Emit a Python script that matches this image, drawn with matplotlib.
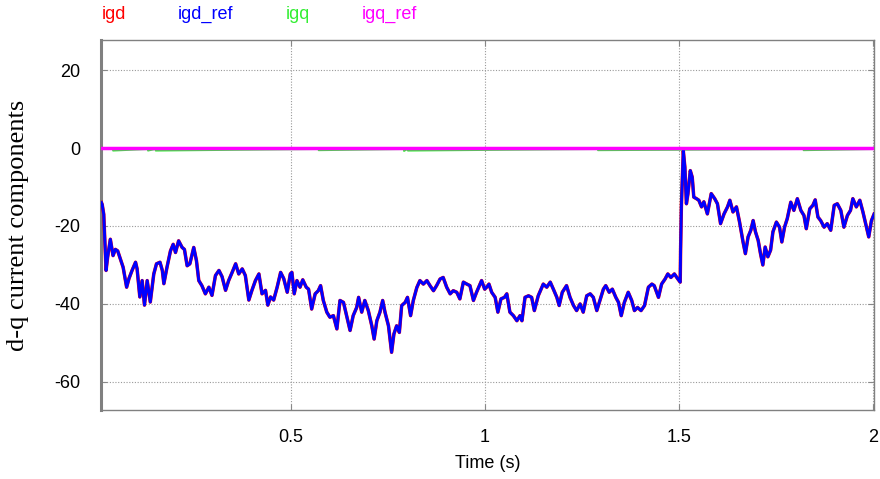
import matplotlib
matplotlib.use('Agg')
import matplotlib.pyplot as plt

plt.rcParams['axes.unicode_minus'] = False

# time samples (s)
time = [0.011, 0.013, 0.017, 0.019, 0.023, 0.027, 0.034, 0.041, 0.047, 0.053,
        0.060, 0.067, 0.076, 0.082, 0.090, 0.099, 0.103, 0.110, 0.116, 0.122,
        0.129, 0.137, 0.146, 0.153, 0.162, 0.168, 0.172, 0.180, 0.189, 0.196,
        0.202, 0.210, 0.219, 0.225, 0.232, 0.239, 0.249, 0.256, 0.262, 0.270,
        0.279, 0.288, 0.296, 0.305, 0.314, 0.322, 0.331, 0.339, 0.348, 0.357,
        0.365, 0.374, 0.382, 0.391, 0.399, 0.408, 0.417, 0.425, 0.434, 0.440,
        0.447, 0.455, 0.464, 0.473, 0.481, 0.490, 0.498,
        0.502, 0.508, 0.515, 0.523, 0.530, 0.539, 0.545, 0.553, 0.562, 0.570,
        0.576, 0.583, 0.592, 0.600, 0.609, 0.618, 0.626, 0.635, 0.643, 0.652,
        0.660, 0.669, 0.674, 0.682, 0.690, 0.699, 0.708, 0.714, 0.721, 0.729,
        0.736, 0.742, 0.751, 0.759, 0.765, 0.772, 0.779, 0.785, 0.794, 0.800,
        0.808, 0.815, 0.824, 0.832, 0.841, 0.850, 0.858, 0.867, 0.875, 0.884,
        0.892, 0.901, 0.910, 0.918, 0.927, 0.935, 0.944, 0.953, 0.961, 0.970,
        0.978, 0.991, 0.999,
        1.004, 1.010, 1.017, 1.026, 1.033, 1.041, 1.050, 1.056, 1.064, 1.073,
        1.082, 1.090, 1.095, 1.103, 1.112, 1.120, 1.127, 1.137, 1.150, 1.159,
        1.168, 1.176, 1.185, 1.191, 1.199, 1.210, 1.219, 1.228, 1.236, 1.245,
        1.253, 1.262, 1.271, 1.279, 1.288, 1.296, 1.305, 1.311, 1.320, 1.328,
        1.337, 1.344, 1.351, 1.359, 1.369, 1.378, 1.385, 1.393, 1.402, 1.411,
        1.421, 1.430, 1.436, 1.447, 1.455, 1.464, 1.471, 1.479, 1.488, 1.497,
        1.503,
        1.504, 1.506, 1.509, 1.511, 1.515, 1.519, 1.523, 1.529, 1.534, 1.538,
        1.545, 1.551, 1.558, 1.564, 1.573, 1.583, 1.592, 1.599, 1.607, 1.616,
        1.625, 1.631, 1.639, 1.648, 1.656, 1.665, 1.671, 1.678, 1.685, 1.691,
        1.697, 1.704, 1.710, 1.716, 1.722, 1.729, 1.736, 1.742, 1.751, 1.759,
        1.765, 1.772, 1.779, 1.788, 1.796, 1.805, 1.814, 1.822, 1.828, 1.837,
        1.845, 1.851, 1.858, 1.865, 1.874, 1.882, 1.891, 1.900, 1.908, 1.917,
        1.925, 1.934, 1.942, 1.948, 1.957, 1.966, 1.974, 1.983, 1.989, 1.996,
        2.003]

igd_ref = [-14.0, -14.5, -17.0, -22.0, -31.4, -28.0, -23.4, -27.6, -26.0, -26.4,
           -28.5, -30.6, -35.7, -33.5, -31.4, -29.3, -31.0, -38.2, -34.0, -40.3,
           -34.0, -39.5, -32.3, -29.7, -29.3, -31.4, -34.8, -30.6, -26.4, -24.7,
           -26.8, -23.8, -25.5, -26.0, -30.2, -29.7, -25.5, -28.9, -34.0, -35.3,
           -37.4, -35.7, -37.8, -32.7, -31.4, -33.0, -36.5, -34.0, -31.9, -29.7,
           -32.3, -31.0, -32.7, -39.0, -36.5, -34.0, -32.3, -37.4, -36.5, -40.3,
           -38.2, -39.0, -35.7, -31.9, -33.5, -37.0, -32.3,
           -31.9, -37.4, -34.0, -35.7, -33.8, -35.7, -36.2, -41.3, -37.4, -36.6,
           -35.3, -39.1, -42.1, -43.4, -43.0, -46.4, -39.1, -39.6, -43.0, -46.8,
           -43.0, -40.9, -38.3, -42.1, -39.1, -41.7, -45.6, -49.0, -44.3, -42.1,
           -39.1, -42.1, -45.6, -52.4, -47.7, -45.6, -47.3, -40.4, -39.6, -38.3,
           -43.0, -39.1, -35.8, -34.0, -34.9, -34.0, -35.3, -36.6, -35.3, -33.6,
           -33.2, -35.7, -37.4, -36.6, -37.0, -38.7, -34.4, -34.9, -35.3, -39.1,
           -37.0, -34.0, -36.2,
           -35.7, -34.9, -37.0, -38.3, -42.1, -38.7, -38.3, -37.4, -42.1, -43.0,
           -44.3, -43.0, -44.3, -38.3, -37.9, -38.3, -41.7, -37.9, -34.9, -35.7,
           -34.4, -36.2, -38.3, -40.4, -37.0, -35.3, -38.3, -40.4, -41.7, -40.0,
           -42.1, -37.9, -37.4, -38.3, -41.7, -39.1, -36.2, -35.3, -37.0, -36.2,
           -38.3, -39.6, -43.0, -39.6, -37.0, -39.1, -41.7, -40.9, -41.7, -40.4,
           -35.7, -34.9, -35.3, -38.3, -34.9, -33.6, -32.3, -33.2, -32.3, -33.6,
           -34.4,
           -26.2, -15.0, -6.6, -0.7, -4.9, -14.3, -11.7, -5.8, -7.5, -12.6,
           -13.0, -13.4, -15.1, -13.8, -16.9, -11.7, -13.0, -14.3, -19.4, -16.9,
           -15.1, -13.4, -16.4, -15.1, -19.0, -24.1, -27.1, -22.8, -21.1, -18.6,
           -21.5, -23.7, -27.1, -30.0, -25.4, -27.9, -26.2, -21.5, -19.0, -20.3,
           -24.1, -20.3, -18.1, -13.9, -16.0, -13.0, -16.0, -17.3, -20.7, -15.6,
           -14.7, -13.3, -17.7, -18.6, -20.3, -19.4, -21.1, -14.7, -14.3, -16.0,
           -20.3, -17.3, -16.0, -13.0, -15.1, -13.4, -16.4, -20.3, -22.8, -18.6,
           -16.9]

# igd tracks its reference, the two traces lie on top of each other
igd = list(igd_ref)

# q-axis current and its reference stay at zero
q_time = [0.01, 0.04, 0.041, 0.13, 0.131, 0.15, 0.151, 0.57, 0.571, 0.79, 0.791,
          0.8, 0.801, 1.29, 1.291, 1.82, 1.821, 2.003]
igq = [-0.3, -0.3, -0.7, -0.3, -0.7, -0.3, -0.7, -0.3, -0.6, -0.3, -0.8,
       -0.3, -0.7, -0.3, -0.6, -0.3, -0.6, -0.3]
igq_ref_time = [0.01, 2.003]
igq_ref = [0.0, 0.0]

xticks = [0.5, 1, 1.5, 2]
xtick_labels = ['0.5', '1', '1.5', '2']
yticks = [-60, -40, -20, 0, 20]

names = ['igd', 'igd_ref', 'igq', 'igq_ref']
colors = ['#ff0000', '#0000ff', '#33ee33', '#ff00ff']
name_x = [0.116, 0.202, 0.325, 0.411]

fig = plt.figure(figsize=(8.8, 4.79), dpi=100)
ax = fig.add_axes([0.1148, 0.144, 0.8784, 0.7725])

ax.plot(time, igd, color=colors[0], lw=2.5, zorder=3)
ax.plot(time, igd_ref, color=colors[1], lw=2.1, zorder=4)
ax.plot(q_time, igq, color=colors[2], lw=1.2, zorder=3)
ax.plot(igq_ref_time, igq_ref, color=colors[3], lw=2.5, zorder=5)

ax.set_xlim(0.01, 2.0026)
ax.set_ylim(-67.2, 27.7)
ax.set_xticks(xticks)
ax.set_xticklabels(xtick_labels)
ax.set_yticks(yticks)
ax.grid(True, color='#999999', linestyle=(0, (1, 1.5)), linewidth=0.8)
ax.tick_params(direction='in', length=4, color='#888888', labelsize=13, top=True, right=True)
ax.tick_params(axis='y', pad=15)
ax.tick_params(axis='x', pad=14)
for s in ax.spines.values():
    s.set_color('#808080')
    s.set_linewidth(1)
ax.spines['left'].set_linewidth(2.2)

ax.set_xlabel('Time (s)', fontsize=13, family='Liberation Sans', labelpad=6)
ax.set_ylabel('d-q current components', fontsize=19, family='Liberation Serif', va='center')
ax.yaxis.set_label_coords(-0.108, 0.5)
for lab in ax.get_xticklabels() + ax.get_yticklabels():
    lab.set_family('Liberation Sans')

for n, c, x in zip(names, colors, name_x):
    fig.text(x, 0.969, n, color=c, fontsize=13, family='Liberation Sans', va='center')

fig.savefig('out.png', dpi=100)
